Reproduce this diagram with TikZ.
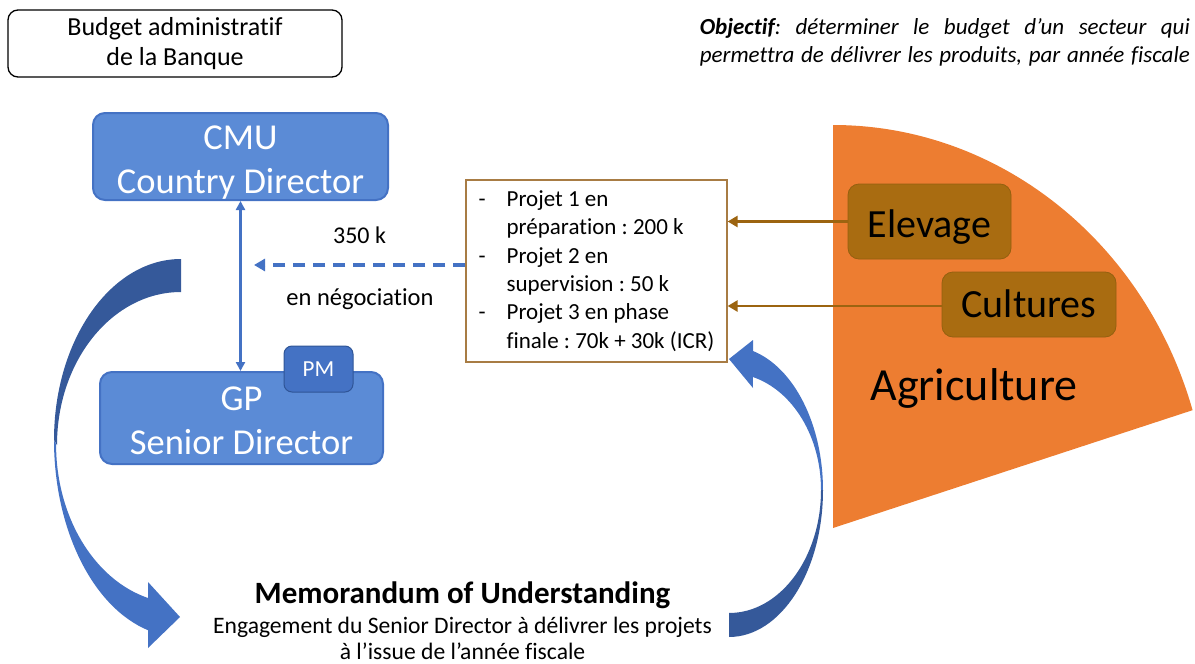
\documentclass[tikz,border=0pt]{standalone}
\usepackage{fontspec}
\setmainfont{Carlito}[Ligatures=NoCommon]
\usetikzlibrary{arrows.meta}
\definecolor{boxblue}{HTML}{5B8BD6}
\definecolor{accblue}{HTML}{4472C4}
\definecolor{darkblue}{HTML}{2F5597}
\definecolor{ribdark}{HTML}{35599A}
\definecolor{agorange}{HTML}{ED7D31}
\definecolor{subbrown}{HTML}{A96C11}
\definecolor{subedge}{HTML}{946010}
\definecolor{arrbrown}{HTML}{9C6410}
\definecolor{projedge}{HTML}{A87C44}
\frenchspacing
\begin{document}
\begin{tikzpicture}[x=1pt,y=1pt,
  bluebox/.style={draw=accblue, fill=boxblue, line width=2pt, rounded corners=12pt, text=white, align=center, inner sep=0pt, font=\fontsize{36.5}{44}\selectfont},
  subbox/.style={draw=subedge, fill=subbrown, line width=0.8pt, rounded corners=11pt, inner sep=0pt, font=\fontsize{40}{48}\selectfont},
  brownarrow/.style={draw=arrbrown, line width=2.4pt, -{Triangle[length=10pt,width=11pt]}},
  bluelink/.style={draw=accblue, line width=2.5pt, {Triangle[length=9pt,width=9pt]}-{Triangle[length=9pt,width=9pt]}},
  dashlink/.style={draw=accblue, line width=3.5pt, dash pattern=on 12pt off 8pt, -{Triangle[length=11pt,width=12pt]}},
  plain/.style={inner sep=0pt}
]
\useasboundingbox (0,0) rectangle (1195,-664);

% orange sector
\fill[agorange] (833,-528) -- (833,-125) arc[start angle=90, end angle=17, x radius=376, y radius=403] -- cycle;

% top boxes and text
\node[draw, line width=1.3pt, rounded corners=10pt, minimum width=334, minimum height=67, align=center, inner sep=0pt, font=\fontsize{26}{30.5}\selectfont] (budget) at (175,-43.5) {Budget administratif\\de la Banque};

\node[plain, anchor=base east, align=right, font=\fontsize{23}{27.5}\selectfont\itshape] (obj) at (1190,-62)
  {\makebox[490pt][s]{\textbf{Objectif}: déterminer le budget d’un secteur qui}\\
   \makebox[490pt][s]{permettra de délivrer les produits, par année fiscale}};

% blue boxes
\node[bluebox, minimum width=295, minimum height=87] (cmu) at (240.5,-156.5) {\rule{0pt}{35pt}CMU\\Country Director};
\node[bluebox, minimum width=283, minimum height=92] (gp) at (241.5,-418) {\rule{0pt}{29.5pt}GP\\Senior Director};
\node[draw=darkblue, fill=accblue, line width=1pt, rounded corners=8pt, minimum width=69, minimum height=46, inner sep=0pt, text=white, font=\fontsize{23}{28}\selectfont] (pm) at (318.5,-369) {PM};

\draw[bluelink] (cmu.south) -- (cmu.south |- gp.north);

% project box
\node[draw=projedge, fill=white, line width=1.2pt, minimum width=261, minimum height=182, inner sep=0pt, align=left, font=\fontsize{23}{28.4}\selectfont] (proj) at (596.5,-271)
  {\makebox[28pt][l]{-}Projet 1 en\\
   \hspace*{28pt}préparation : 200 k\\
   \makebox[28pt][l]{-}Projet 2 en\\
   \hspace*{28pt}supervision : 50 k\\
   \makebox[28pt][l]{-}Projet 3 en phase\\
   \hspace*{28pt}finale : 70k + 30k (ICR)};

\coordinate (dashend) at (254,-265);
\draw[dashlink] (proj.west |- dashend) -- (dashend);
\node[plain, anchor=base, font=\fontsize{24}{29}\selectfont] (l350) at (359.5,-243) {350 k};
\node[plain, anchor=base, font=\fontsize{24.5}{29}\selectfont] (lneg) at (360,-305) {en négociation};

% sub-sector boxes
\node[subbox, minimum width=163, minimum height=75, text height=41pt, text depth=10pt] (elev) at (929.5,-221.5) {Elevage};
\node[subbox, minimum width=174, minimum height=65, text height=28pt, text depth=3pt] (cult) at (1029,-304.5) {Cultures};
\node[plain, anchor=base, font=\fontsize{46}{55}\selectfont] (agri) at (974,-400) {Agriculture};

\draw[brownarrow] (elev.west) -- (elev.west -| proj.east);
\draw[brownarrow] (cult.west |- 0,-306) -- (proj.east |- 0,-306);

% memorandum
\node[plain, anchor=base, font=\fontsize{31}{36}\selectfont\bfseries] (memo) at (462.5,-603) {Memorandum of Understanding};
\node[plain, anchor=base, align=center, font=\fontsize{23.6}{25.5}\selectfont] (memodesc) at (462.5,-659) {Engagement du Senior Director à délivrer les projets\\à l’issue de l’année fiscale};

% left curved arrow
\fill[ribdark] (181,-259) arc[start angle=90, end angle=180, x radius=127, y radius=181]
  -- (57,-445) arc[start angle=180, end angle=90, x radius=124, y radius=153] -- cycle;
\fill[accblue] (54,-440) arc[start angle=180, end angle=255, x radius=127, y radius=197]
  -- (148,-648) -- (180,-617) -- (148,-582) -- (148,-598)
  arc[start angle=255, end angle=180, x radius=124, y radius=159] -- cycle;

% right curved arrow
\fill[accblue] (753,-351) arc[start angle=75.2, end angle=0, x radius=94, y radius=144]
  -- (821,-490) arc[start angle=0, end angle=75, x radius=92, y radius=117]
  -- (753,-388) -- (729,-359) -- (753,-340) -- cycle;
\fill[ribdark] (823,-490) arc[start angle=0, end angle=-90, x radius=94, y radius=147]
  -- (729,-613) arc[start angle=-90, end angle=0, x radius=92, y radius=123] -- cycle;
\end{tikzpicture}
\end{document}
